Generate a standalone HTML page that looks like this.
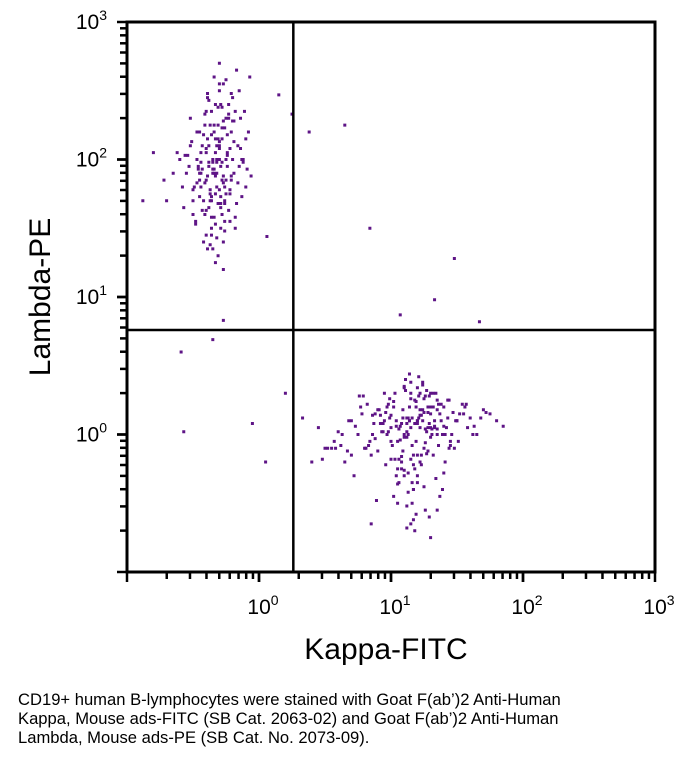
<!DOCTYPE html>
<html><head><meta charset="utf-8"><style>
body{margin:0;background:#fff;width:686px;height:759px;overflow:hidden;font-family:"Liberation Sans",sans-serif}
.cap{position:absolute;left:18px;top:690px;font-size:16.6px;line-height:19px;color:#000;white-space:nowrap}
</style></head><body>
<svg id="chart" width="686" height="680" style="position:absolute;left:0;top:0" font-family="Liberation Sans, sans-serif"></svg>
<div class="cap">CD19+ human B-lymphocytes were stained with Goat F(ab’)2 Anti-Human<br>Kappa, Mouse ads-FITC (SB Cat. 2063-02) and Goat F(ab’)2 Anti-Human<br>Lambda, Mouse ads-PE (SB Cat. No. 2073-09).</div>
<script>
const xTicks=[0,1,2,3];
const yTicks=[0,1,2,3];
const gateX=0.26, gateY=0.76;
const pop1X=[-0.35,-0.3,-0.42,-0.25,-0.38,-0.2,-0.5,-0.33,-0.28,-0.45,-0.15,-0.36,-0.4,-0.22,-0.31,-0.55,-0.27,-0.18,-0.44,-0.34,-0.12,-0.6,-0.29,-0.37,-0.24,-0.48,-0.32,-0.08,-0.39,-0.26,-0.43,-0.21,-0.35,-0.52,-0.3,-0.17,-0.41,-0.28,-0.65,-0.33,-0.23,-0.46,-0.36,-0.1,-0.38,-0.27,-0.5,-0.19,-0.34,-0.29,-0.44,-0.31,-0.14,-0.4,-0.25,-0.57,-0.36,-0.22,-0.32,-0.47,-0.3,-0.16,-0.42,-0.26,-0.35,-0.7,-0.2,-0.39,-0.28,-0.53,-0.33,-0.11,-0.37,-0.24,-0.45,-0.3,-0.18,-0.41,-0.34,-0.62,-0.27,-0.07,-0.38,-0.23,-0.49,-0.32,-0.15,-0.4,-0.29,-0.36,-0.21,-0.44,-0.26,-0.58,-0.33,-0.13,-0.39,-0.3,-0.47,-0.25];
const pop1Y=[1.9,2.1,1.7,2.3,1.95,2.0,1.6,2.4,1.85,2.2,2.5,1.5,2.05,1.75,2.15,1.9,1.4,2.35,1.8,2.6,2.0,2.0,1.65,2.25,1.95,1.55,1.8,2.2,2.45,1.7,2.1,1.85,1.35,2.3,2.0,2.65,1.6,2.15,1.9,1.75,2.4,1.95,1.45,1.8,2.1,2.55,1.7,1.9,2.25,1.5,2.05,1.3,2.3,1.85,2.0,1.65,2.35,1.55,1.9,2.2,2.7,2.1,1.4,1.8,2.0,1.7,2.45,2.15,1.6,1.95,1.25,2.35,1.75,2.05,1.85,2.5,1.5,2.25,1.9,2.05,1.2,2.6,1.65,2.3,1.8,2.1,1.95,1.45,2.4,1.7,2.2,1.9,1.55,1.8,2.15,2.0,1.35,2.55,2.0,1.75];
const pop1bX=[-0.32,-0.27,-0.4,-0.22,-0.36,-0.29,-0.46,-0.19,-0.34,-0.24,-0.41,-0.31,-0.13,-0.38,-0.26,-0.51,-0.33,-0.21,-0.43,-0.28,-0.09,-0.37,-0.3,-0.48,-0.23,-0.35,-0.17,-0.42,-0.27,-0.54,-0.32,-0.2,-0.39,-0.25,-0.45,-0.3,-0.12,-0.36,-0.28,-0.5,-0.34,-0.22,-0.4,-0.26,-0.16,-0.38,-0.31,-0.44,-0.24,-0.33,-0.06,-0.41,-0.29,-0.56,-0.35,-0.19,-0.37,-0.27,-0.47,-0.32,-0.23,-0.39,-0.3,-0.14,-0.43,-0.26,-0.34,-0.21,-0.52,-0.36,-0.28,-0.4,-0.18,-0.33,-0.25,-0.45,-0.31,-0.37,-0.1,-0.29];
const pop1bY=[1.98,1.88,2.08,1.78,2.18,1.68,1.93,2.28,1.58,2.03,1.83,2.38,1.73,1.98,1.48,2.13,1.88,2.48,1.63,2.23,1.93,1.78,2.08,1.53,2.33,1.98,1.68,2.18,1.83,2.03,1.43,2.28,1.88,2.58,1.73,2.13,1.98,1.58,2.38,1.78,1.93,2.08,1.63,2.23,1.83,2.43,1.68,1.98,2.18,1.53,1.88,2.33,1.73,2.03,1.93,2.13,1.38,2.28,1.83,2.0,1.63,2.48,1.78,2.08,1.93,1.68,2.2,1.88,2.1,1.73,1.98,2.35,1.58,2.05,1.85,1.9,2.25,1.7,2.15,1.95];
const pop2X=[1.15,1.2,1.05,1.3,1.1,0.95,1.25,1.4,1.0,1.18,0.85,1.35,1.12,1.22,0.9,1.5,1.08,1.28,0.75,1.15,1.45,1.02,1.32,0.8,1.2,1.1,1.55,0.98,1.38,1.16,0.7,1.26,1.06,1.42,0.88,1.2,1.6,1.0,1.3,1.13,0.65,1.24,1.48,0.92,1.17,1.35,1.04,0.78,1.28,1.1,1.65,0.96,1.22,1.4,0.6,1.14,1.33,1.02,1.52,0.86,1.19,1.27,0.72,1.09,1.44,1.23,0.94,1.36,1.11,0.55,1.7,1.05,1.3,0.82,1.18,1.46,1.0,1.25,0.68,1.15,1.58,0.9,1.34,1.12,0.5,1.21,1.41,0.97,1.29,1.07,0.76,1.62,1.16,1.37,0.84,1.24,1.03,1.49,0.45,1.13,1.32,0.93,1.2,1.75,1.08,0.62,1.26,1.43,0.99,1.17,0.4,1.31,1.54,0.89,1.22,1.1,1.8,0.58,1.35,1.15,1.12,1.3,0.85];
const pop2Y=[0.05,0.1,-0.05,0.15,0.0,0.1,-0.1,0.2,0.05,0.25,-0.15,0.0,0.12,-0.2,0.18,0.1,-0.25,0.05,0.0,0.3,-0.05,0.2,-0.15,-0.1,0.08,-0.3,0.15,0.02,0.22,-0.08,0.1,0.28,-0.18,0.05,0.15,-0.35,0.12,-0.05,0.3,0.0,-0.2,0.18,-0.1,0.08,-0.4,0.25,0.1,0.15,-0.12,0.35,0.0,-0.22,0.05,-0.28,0.02,0.2,0.1,-0.45,0.15,0.0,-0.05,0.32,-0.3,0.12,0.25,-0.15,0.08,-0.08,0.4,-0.1,0.18,-0.5,0.05,0.22,-0.25,0.0,0.14,-0.38,0.1,0.26,0.05,-0.12,0.3,-0.02,-0.1,0.12,-0.2,0.2,-0.6,0.06,0.28,0.0,-0.35,0.15,-0.05,0.36,-0.18,0.1,0.05,-0.42,0.2,0.02,-0.3,0.15,0.08,-0.08,-0.55,0.25,0.12,-0.15,-0.2,0.04,0.22,-0.48,0.3,-0.02,0.1,-0.1,0.18,-0.65,-0.68,-0.75,-0.65];
const pop2bX=[1.18,1.12,1.23,1.07,1.28,1.14,1.01,1.33,1.19,1.09,1.25,0.97,1.38,1.15,1.21,1.04,1.3,0.91,1.17,1.43,1.11,1.26,0.87,1.36,1.2,1.06,1.47,1.13,0.99,1.31,1.16,0.81,1.24,1.4,1.08,1.19,0.94,1.34,1.22,1.03,1.51,1.14,0.77,1.27,1.1,1.39,1.17,0.96,1.29,1.05,1.57,1.21,0.83,1.13,1.35,1.0,1.25,0.73,1.44,1.16,1.09,1.32,0.88,1.2,1.63,1.06,1.28,0.67,1.15,1.41,1.02,1.23,0.92,1.37,1.12,0.57,1.3,1.19,1.5,0.95,1.08,1.26,0.79,1.45,1.14,1.68,1.04,1.22,0.52,1.33,1.17,0.98,1.39,0.86,1.1,1.27,1.56,0.7,1.2,1.12,0.33,1.29,1.72,0.63,1.18,1.05,0.48,1.35,1.85,1.24];
const pop2bY=[0.08,0.02,0.14,-0.04,0.2,0.1,-0.08,0.05,0.24,-0.12,0.16,0.0,0.1,-0.18,0.28,0.06,-0.02,0.18,-0.22,0.12,0.32,-0.06,0.08,0.22,-0.15,0.04,0.16,-0.28,0.26,0.0,0.12,-0.1,0.38,0.06,-0.2,0.2,0.02,-0.32,0.14,0.3,-0.05,0.1,0.2,-0.14,0.34,0.0,-0.4,0.16,0.08,-0.25,0.22,0.42,-0.08,0.12,0.04,-0.18,0.26,0.06,-0.1,-0.5,0.18,0.3,-0.03,0.1,0.06,-0.35,0.16,-0.12,0.38,0.0,0.24,-0.22,0.14,-0.45,0.08,-0.05,0.2,-0.58,0.1,0.3,-0.16,0.04,0.28,-0.08,0.44,0.12,-0.3,0.18,-0.1,0.06,-0.62,0.22,-0.4,0.14,-0.26,0.02,0.2,-0.15,0.34,-0.52,0.12,0.28,0.16,0.0,-0.7,-0.36,-0.18,-0.55,0.06,0.1];
const outX=[0.15,0.38,0.65,0.84,1.48,1.07,1.33,1.67,-0.59,-0.57,-0.35,-0.27,0.06,0.25,-0.8,-0.88,-0.72,0.05,-0.05,0.2];
const outY=[2.47,2.2,2.25,1.5,1.28,0.87,0.98,0.82,0.6,0.02,0.69,0.83,1.44,2.33,2.05,1.7,1.85,-0.2,0.08,0.3];
const L=127,R=655,T=22,B=572;
const sx=v=>L+(v+1)/4*(R-L);
const sy=v=>B-(v+1)/4*(B-T);
const svg=document.getElementById('chart');const NS='http://www.w3.org/2000/svg';
function mk(t,a){const e=document.createElementNS(NS,t);for(const k in a)e.setAttribute(k,a[k]);svg.appendChild(e);return e;}
function dots(xs,ys,name){const n=Math.min(xs.length,ys.length);for(let i=0;i<n;i++){const d=mk('rect',{x:sx(xs[i])-1.5,y:sy(ys[i])-1.5,width:3,height:3,fill:'#5e1486'});

}}
dots(pop1X,pop1Y,'lambda-event');dots(pop1bX,pop1bY,'lambda-event');
dots(pop2X,pop2Y,'kappa-event');dots(pop2bX,pop2bY,'kappa-event');
dots(outX,outY,'outlier-event');
const fr=mk('rect',{x:L,y:T,width:R-L,height:B-T,fill:'none',stroke:'#000','stroke-width':3});


const gv=mk('line',{x1:sx(gateX),x2:sx(gateX),y1:T,y2:B,stroke:'#000','stroke-width':2.5});


const gh=mk('line',{x1:L,x2:R,y1:sy(gateY),y2:sy(gateY),stroke:'#000','stroke-width':2.5});


for(let d=-1;d<3;d++){for(let m=1;m<=10;m++){const v=d+Math.log10(m);const maj=(m===1||m===10);
const tx=mk('line',{x1:sx(v),x2:sx(v),y1:B,y2:B+(maj?10:7),stroke:'#000','stroke-width':2.5});


const ty=mk('line',{x1:L,x2:L-(maj?10:7),y1:sy(v),y2:sy(v),stroke:'#000','stroke-width':2.5});

}}
xTicks.forEach(t=>{const e=mk('text',{x:sx(t)+4,y:614,'text-anchor':'middle','font-size':21});e.innerHTML='10<tspan dy="-9" font-size="14">'+t+'</tspan>';

});
yTicks.forEach(t=>{const e=mk('text',{x:107,y:sy(t)+7,'text-anchor':'end','font-size':21});e.innerHTML='10<tspan dy="-9" font-size="14">'+t+'</tspan>';

});
const xl=mk('text',{x:386,y:659,'text-anchor':'middle','font-size':30});xl.textContent='Kappa-FITC';


const yl=mk('text',{x:50,y:297,'text-anchor':'middle','font-size':30,transform:'rotate(-90 50 297)'});yl.textContent='Lambda-PE';


</script>
</body></html>
